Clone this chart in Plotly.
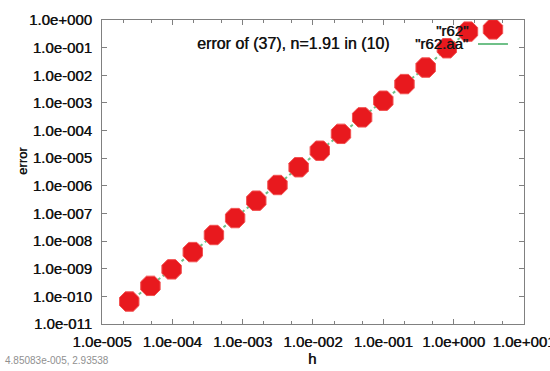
import plotly.graph_objects as go

# data: step size h and error
h_vals = [0.1 * 2 ** k for k in range(-12, 5)]
err_vals = [6.5e-11, 2.4e-10, 9.5e-10, 4.0e-9, 1.66e-8, 6.8e-8, 2.9e-7, 1.07e-6,
            4.7e-6, 1.86e-5, 7.6e-5, 3.0e-4, 1.2e-3, 4.8e-3, 1.9e-2, 9.5e-2, 3.8e-1]

x_tickvals = [1e-5, 1e-4, 1e-3, 1e-2, 1e-1, 1e0, 1e1]
x_ticktext = ["1.0e-005", "1.0e-004", "1.0e-003", "1.0e-002", "1.0e-001", "1.0e+000", "1.0e+001"]
y_tickvals = [10.0 ** e for e in range(-11, 1)]
y_ticktext = ["1.0e-011", "1.0e-010", "1.0e-009", "1.0e-008", "1.0e-007", "1.0e-006",
              "1.0e-005", "1.0e-004", "1.0e-003", "1.0e-002", "1.0e-001", "1.0e+000"]

title_text = "error of (37), n=1.91 in (10)"
series_names = ['"r62"', '"r62.aa"']
coord_text = "4.85083e-005, 2.93538"

RED = "#e8191e"
RED_EDGE = "#f25050"
GREEN = "#6fc088"
FONT = "Liberation Sans"
AXC = "#808080"
TXT = "#111111"
THICK = "0.4px 0px 0px #333333"

fig = go.Figure()
fig.add_trace(go.Scatter(x=h_vals, y=err_vals, mode="lines",
                         line=dict(color=GREEN, width=2, dash="3px,3px"), showlegend=False))
fig.add_trace(go.Scatter(x=h_vals, y=err_vals, mode="markers",
                         marker=dict(symbol="octagon", size=21, color=RED,
                                     line=dict(color=RED_EDGE, width=1)), showlegend=False))

# key samples drawn on an overlay axis in plot-fraction units
fig.add_trace(go.Scatter(x=[0.891, 0.962], y=[0.921, 0.921], mode="lines", xaxis="x2", yaxis="y2",
                         line=dict(color=GREEN, width=2), showlegend=False))
fig.add_trace(go.Scatter(x=[0.9265], y=[0.969], mode="markers", xaxis="x2", yaxis="y2",
                         marker=dict(symbol="octagon", size=21, color=RED,
                                     line=dict(color=RED_EDGE, width=1)), showlegend=False))

axis_common = dict(showgrid=False, zeroline=False, showline=True, linecolor=AXC, linewidth=1,
                   mirror="ticks", ticks="inside", ticklen=5, tickcolor=AXC,
                   ticklabeloverflow="allow", automargin=False,
                   tickfont=dict(family=FONT, size=15, color=TXT, shadow=THICK))

fig.update_layout(
    width=550, height=371,
    margin=dict(l=102, r=26, t=20, b=47, autoexpand=False),
    paper_bgcolor="white", plot_bgcolor="white",
    xaxis=dict(type="log", range=[-5, 1.0005], tickmode="array", tickvals=x_tickvals,
               ticktext=x_ticktext, ticklabelstandoff=4,
               minor=dict(ticks="inside", ticklen=3, tickcolor=AXC, dtick="D2"),
               **axis_common),
    yaxis=dict(type="log", range=[-11, 0], tickmode="array", tickvals=y_tickvals,
               ticktext=y_ticktext, ticklabelstandoff=6, **axis_common),
    xaxis2=dict(overlaying="x", range=[0, 1], visible=False, fixedrange=True),
    yaxis2=dict(overlaying="y", range=[0, 1], visible=False, fixedrange=True),
    showlegend=False,
)

fig.add_annotation(text=title_text, xref="paper", yref="paper", x=0.687, y=0.923,
                   xanchor="right", yanchor="middle", showarrow=False,
                   font=dict(family=FONT, size=16, color=TXT, shadow=THICK))
fig.add_annotation(text=series_names[0], xref="paper", yref="paper", x=0.872, y=0.967,
                   xanchor="right", yanchor="middle", showarrow=False,
                   font=dict(family=FONT, size=15, color=TXT, shadow=THICK))
fig.add_annotation(text=series_names[1], xref="paper", yref="paper", x=0.872, y=0.923,
                   xanchor="right", yanchor="middle", showarrow=False,
                   font=dict(family=FONT, size=15, color=TXT, shadow=THICK))
fig.add_annotation(text="error", xref="paper", yref="paper", x=-0.19, y=0.536, textangle=-90,
                   xanchor="center", yanchor="middle", showarrow=False,
                   font=dict(family=FONT, size=13, color=TXT, shadow=THICK))
fig.add_annotation(text="h", xref="paper", yref="paper", x=0.4976, y=-0.112,
                   xanchor="center", yanchor="middle", showarrow=False,
                   font=dict(family=FONT, size=15, color=TXT, shadow=THICK))
fig.add_annotation(text=coord_text, xref="paper", yref="paper", x=-0.234, y=-0.12,
                   xanchor="left", yanchor="middle", showarrow=False,
                   font=dict(family=FONT, size=10, color="#909090"))

fig.write_html("out.html")
